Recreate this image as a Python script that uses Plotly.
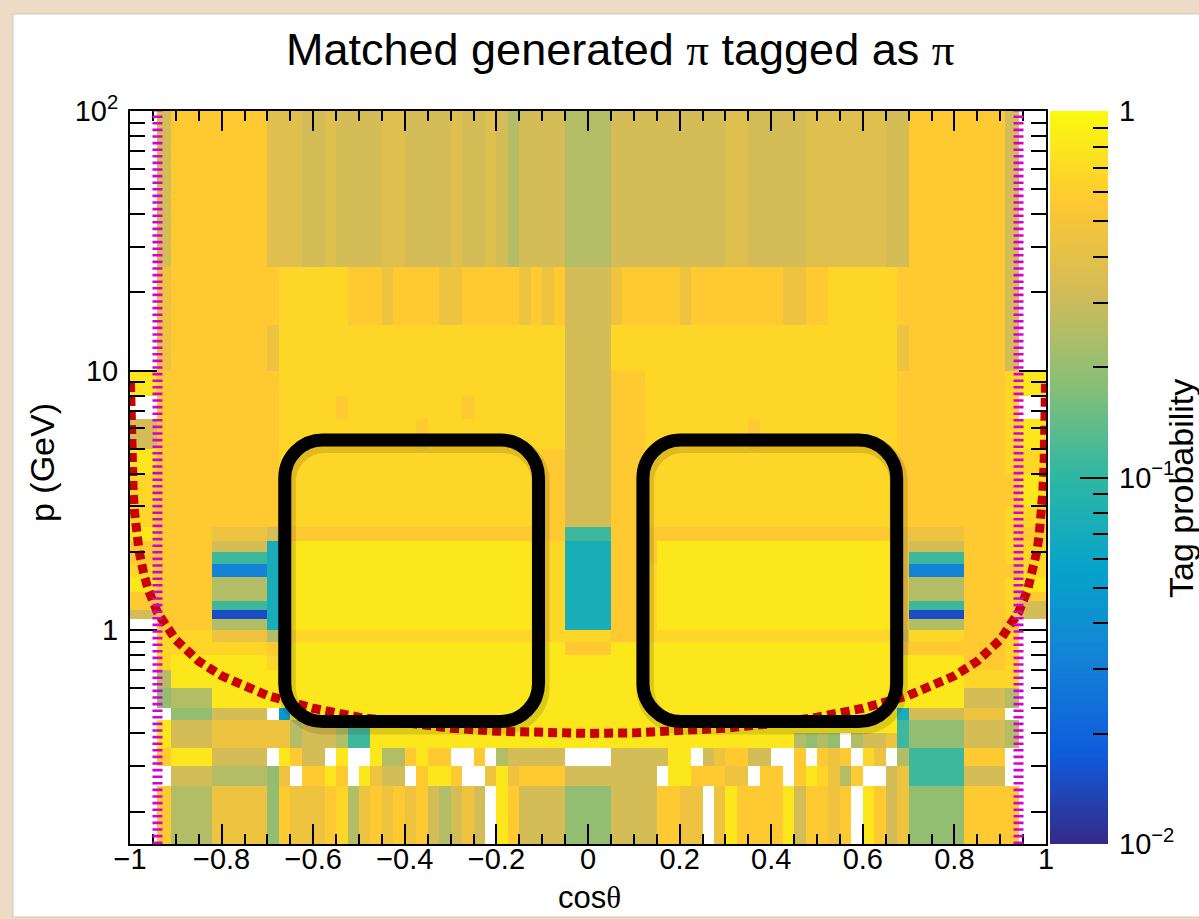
import math
import plotly.graph_objects as go

# ---------------- data ----------------
TITLE = "Matched generated <span style='font-family:Liberation Serif'>π</span> tagged as <span style='font-family:Liberation Serif'>π</span>"
X_TITLE = "cos<span style='font-family:Liberation Serif'>θ</span>"
Y_TITLE = "p (GeV)"
Z_TITLE = "Tag probability"

# cos(theta) bin edges: coarse outer bins, 0.025-wide inner bins
X_EDGES_LEFT = [-1.0, -0.94, -0.91, -0.82, -0.70]
X_EDGES_INNER = [-0.675, -0.65, -0.625, -0.6, -0.575, -0.55, -0.525, -0.5, -0.475, -0.45,
                 -0.425, -0.4, -0.375, -0.35, -0.325, -0.3, -0.275, -0.25, -0.225, -0.2,
                 -0.175, -0.15, -0.125, -0.1, -0.075, -0.05, -0.025, 0.0, 0.025, 0.05,
                 0.075, 0.1, 0.125, 0.15, 0.175, 0.2, 0.225, 0.25, 0.275, 0.3,
                 0.325, 0.35, 0.375, 0.4, 0.425, 0.45, 0.475, 0.5, 0.525, 0.55,
                 0.575, 0.6, 0.625, 0.65, 0.675]
X_EDGES_RIGHT = [0.70, 0.82, 0.91, 0.94, 1.0]

# momentum bin edges (GeV)
P_EDGES = [0.15, 0.25, 0.3, 0.35, 0.4, 0.45, 0.5, 0.6, 0.7, 0.8, 0.9, 1.0, 1.1, 1.2, 1.3,
           1.4, 1.6, 1.8, 2.0, 2.2, 2.5, 3.0, 4.0, 5.0, 6.5, 8.0, 10, 15, 25, 100]

# tag-probability levels ('.' = empty bin)
LEVELS = {'Y': 0.80, 'y': 0.66, 'o': 0.57, 'a': 0.46, 'h': 0.38, 'g': 0.33, 'l': 0.25,
          'G': 0.195, 'T': 0.11, 't': 0.074, 'c': 0.045, 'b': 0.032, 'B': 0.015}

# rows from the top (p=100) to the bottom (p=0.15); 4 outer | 56 inner | 4 outer
ROWS = [
    ". g o o | hhhg ghgg gghh gggg hggh glgg ggll llgg gggg gggg hhgg gggh hhhh hhgg | o o g .",
    ". a o o | oyyy yyyo ooao oooa aooo ooao aogg ggao oooo aooo oooo oaao oyyy yyyo | o o g .",
    ". a o o | ayyy yyyy yyyy yyyy yyyy yyyy yygg ggyy yyyy yyyy yyyy yyyy yyyy yyya | o o g .",
    "Y o o o | oyyy yyyy yyyy yyyy yyyy yyyy yygg ggoo oyyy yyyy yyyy yyyy yyyy yyyo | o o y Y",
    ". o o o | oyyy yyoy yyyy yyyy yoyy yyyy yygg ggoo oyyy yyyy yyyy yyyy yyyy yyyo | o o y .",
    "g o o o | oyyy yyyy yyyy yoyy yyyy yyyy yygg ggoo oyyy yyyy yyoy yyyy yyyy yyyo | o o y Y",
    "Y o o o | oyyy yyyy yyyy yyyy yyyy yyyy oogg ggoo oyyy yyyy yyyy yyyy yyyy yyyo | o o y y",
    "y o o o | oyyy yyyy yyyy yyyy yyyy yyyy oogg ggoo oyyy yyyy yyyy yyyy yyyy yyyo | o o o Y",
    "y o o o | oyyy yyyy yyyy yyyy yyyy yyyy oogg ggoo oyyy yyyy yyyy yyyy yyyy yyyo | o o y y",
    "Y o o a | gooo oooo oooo oooo oooo oooo ooTT TToo oooo oooo oooo oooo oooo oooa | a o y o",
    "o o o g | tYYY YYYY YYYY YYYY YYYY YYYY yytt ttoo ooYY YYYY YYYY YYYY YYYY YYYa | g o y y",
    "o o o T | tYYY YYYY YYYY YYYY YYYY YYYY yytt ttoo ooYY YYYY YYYY YYYY YYYY YYYa | T o y y",
    "y o o b | tyYY YYYY YYYY YYYY YYYY YYYY yytt ttoo oyYY YYYY YYYY YYYY YYYY YYYa | b o o y",
    "Y o o l | tyYY YYYY YYYY YYYY YYYY YYYY yytt ttoo oyYY YYYY YYYY YYYY YYYY YYYa | l o y Y",
    "o o o l | tyYY YYYY YYYY YYYY YYYY YYYY yytt ttoo oyYY YYYY YYYY YYYY YYYY YYYa | l o y o",
    "o o o T | tyYY YYYY YYYY YYYY YYYY YYYY yytt ttoo oyYY YYYY YYYY YYYY YYYY YYYa | T o y g",
    "g o o B | tyYY YYYY YYYY YYYY YYYY YYYY yytt ttoo oyYY YYYY YYYY YYYY YYYY YYYa | B o y g",
    ". o o l | tyYY YYYY YYYY YYYY YYYY YYYY yytt ttoo oyYY YYYY YYYY YYYY YYYY YYYa | l o a .",
    ". y y a | lyyy yyyy yyyy yyyy yyyy yyyy yyyy yyoo oyyy yyyy yyyy yyyy yyyy yyyg | y o y .",
    ". y y y | oYYY YYYY YYYY YYYY YYYY YYYY YYoo ooYY YYYY YYYY YYYY YYYY YYYY YYYa | o o y .",
    ". y Y Y | yYYY YYYY YYYY YYYY YYYY YYYY YYYY YYYY YYYY YYYY YYYY YYYY YYYY YYYY | Y o y .",
    ". l Y Y | YYYY YYYY YYYY YYYY YYYY YYYY YYYY YYYY YYYY YYYY YYYY YYYY YYYY YYYY | Y y y .",
    ". G l Y | YYYY YYYY YYYY YYYY YYYY YYYY YYYY YYYY YYYY YYYY YYYY YYYY YYYY YYYY | Y g l .",
    ". . G g | .cYY YYYY YYYY YYYY YYYY YYYY YYYY YYYY YYYY YYYY YYYY YYYY YYYY YYYt | g a . .",
    ". Y g a | aalg gglT TYYY YYYY YYYY YYYY YYYY YYYY YYYY YYYY YYYY YYYY YYYY YYYT | G g l .",
    ". Y g a | aalg gglT TYYY YYYY YYYY YYYY YYYY YYYY YYYY YYYY YYYY YYlG lG.l ggaT | G g l .",
    ". o Y g | .Yog g.Y. .Yll oYoo ..o. lggg gg.. ..gg gggY Y.ga oogg ..o. oao. ya.l | T o . .",
    ". . g l | Ga.o oYo. Yagg .oYY o..a Yaoo oogg gggg gg.Y Yooo aa.o o.oY yalo ..ga | T g . .",
    ". o l a | Goaa aoyl aoao aogl gag. Yogg ggGG GGgg ggoo aa.a Yooo oYgo oao. Yoga | G o o .",
]

# p_T = 0.4 GeV threshold curve
CURVE_X = [-0.999, -0.998, -0.996, -0.993, -0.99, -0.985, -0.98, -0.97, -0.96, -0.94, -0.92,
           -0.9, -0.85, -0.8, -0.7, -0.6, -0.5, -0.4, -0.3, -0.2, -0.1, 0.0,
           0.1, 0.2, 0.3, 0.4, 0.5, 0.6, 0.7, 0.8, 0.85, 0.9, 0.92, 0.94, 0.96, 0.97,
           0.98, 0.985, 0.99, 0.993, 0.996, 0.998, 0.999]
CURVE_P = [8.95, 6.33, 4.48, 3.39, 2.84, 2.32, 2.01, 1.65, 1.43, 1.17, 1.02,
           0.918, 0.759, 0.667, 0.560, 0.500, 0.462, 0.436, 0.419, 0.408, 0.402, 0.400,
           0.402, 0.408, 0.419, 0.436, 0.462, 0.500, 0.560, 0.667, 0.759, 0.918, 1.02, 1.17,
           1.43, 1.65, 2.01, 2.32, 2.84, 3.39, 4.48, 6.33, 8.95]

# acceptance edges (magenta) and highlighted regions (black boxes)
ACCEPT_X = [-0.94, 0.94]
BOXES_X = [(-0.662, -0.108), (0.120, 0.674)]
BOX_P = (0.445, 5.4)

# colour axis (tag probability) limits and labels
Z_RANGE = (0.01, 1.0)
Z_TICKS = [0.01, 0.1, 1]
Z_TICKTEXT = ['10<sup>−2</sup>', '10<sup>−1</sup>', '1']

# ---------------- build ----------------
x_edges = X_EDGES_LEFT + X_EDGES_INNER + X_EDGES_RIGHT
rows = [r.replace(' ', '').replace('|', '') for r in ROWS]
for r in rows:
    assert len(r) == len(x_edges) - 1, (len(r), r)
assert len(rows) == len(P_EDGES) - 1

z = []
for r in reversed(rows):
    z.append([None if ch == '.' else math.log10(LEVELS[ch]) for ch in r])

BIRD = [[0.0, 'rgb(53,42,135)'], [0.125, 'rgb(15,92,221)'], [0.25, 'rgb(20,129,214)'],
        [0.375, 'rgb(6,164,202)'], [0.5, 'rgb(46,183,164)'], [0.625, 'rgb(135,191,119)'],
        [0.75, 'rgb(209,187,89)'], [0.875, 'rgb(254,200,50)'], [1.0, 'rgb(249,251,14)']]

W, H = 1199, 919
ML, MR, MT, MB = 130, 91, 111, 75
PW, PH = W - ML - MR, H - MT - MB          # whole plotting region (frame + colour bar)
FRAME_R = 1046                             # right edge of the frame in px
BAR_L, BAR_R = 1050, 1108                  # colour bar in px
FW = FRAME_R - ML                          # frame width in px
FONT = 'Liberation Sans'
LZMIN, LZMAX = math.log10(Z_RANGE[0]), math.log10(Z_RANGE[1])

def px2paper_x(px):
    return (px - ML) / PW

def px2paper_y(py):
    return (H - MB - py) / PH

fig = go.Figure()
fig.add_trace(go.Heatmap(
    x=x_edges, y=P_EDGES, z=z, colorscale=BIRD, zmin=LZMIN, zmax=LZMAX,
    hoverinfo='skip', showscale=False, xaxis='x', yaxis='y',
))

# colour bar drawn as its own little panel (gradient of the colour scale)
NSTEP = 240
bar_edges = [10 ** (LZMIN + (LZMAX - LZMIN) * i / NSTEP) for i in range(NSTEP + 1)]
bar_z = [[LZMIN + (LZMAX - LZMIN) * (i + 0.5) / NSTEP] for i in range(NSTEP)]
fig.add_trace(go.Heatmap(
    x=[0, 1], y=bar_edges, z=bar_z, colorscale=BIRD, zmin=LZMIN, zmax=LZMAX,
    hoverinfo='skip', showscale=False, xaxis='x2', yaxis='y2',
))

fig.add_trace(go.Scatter(
    x=CURVE_X, y=CURVE_P, mode='lines', hoverinfo='skip', showlegend=False,
    line=dict(color='#c80000', width=9, dash='9px,5px'), xaxis='x', yaxis='y',
))

shapes = []
# white panel on parchment
shapes.append(dict(type='rect', xref='paper', yref='paper', layer='below',
                   x0=px2paper_x(13), x1=px2paper_x(1205), y0=px2paper_y(917), y1=px2paper_y(14),
                   fillcolor='white', line=dict(color='#cfc7bd', width=1)))
# acceptance lines
for xv in ACCEPT_X:
    shapes.append(dict(type='line', xref='x', yref='paper', x0=xv, x1=xv, y0=0, y1=1,
                       line=dict(color='#d400d4', width=10, dash='2.6px,4px')))

# rounded boxes
RX = 38 / (FW / 2.0)               # corner radius in x data units
LOG_SPAN = 2 - math.log10(0.15)
FY = 10 ** (38 / (PH / LOG_SPAN))  # corner radius as a p factor
K = 0.5523

def rounded(x0, x1, p0, p1, dx=0.0, fp=1.0):
    x0 += dx; x1 += dx; p0 *= fp; p1 *= fp
    kx = RX * (1 - K)
    fk = FY ** (1 - K)
    return (f"M{x0+RX},{p1} L{x1-RX},{p1} C{x1-kx},{p1} {x1},{p1/fk} {x1},{p1/FY} "
            f"L{x1},{p0*FY} C{x1},{p0*fk} {x1-kx},{p0} {x1-RX},{p0} "
            f"L{x0+RX},{p0} C{x0+kx},{p0} {x0},{p0*fk} {x0},{p0*FY} "
            f"L{x0},{p1/FY} C{x0},{p1/fk} {x0+kx},{p1} {x0+RX},{p1} Z")

for (bx0, bx1) in BOXES_X:
    shapes.append(dict(type='path', xref='x', yref='y',
                       path=rounded(bx0, bx1, BOX_P[0], BOX_P[1], dx=2 / (FW / 2.0),
                                    fp=10 ** (-4 / (PH / LOG_SPAN))),
                       line=dict(color='rgba(70,50,0,0.16)', width=18)))
    shapes.append(dict(type='path', xref='x', yref='y',
                       path=rounded(bx0, bx1, BOX_P[0], BOX_P[1]),
                       line=dict(color='black', width=13)))

annotations = [
    dict(text=TITLE, xref='paper', yref='paper', x=px2paper_x(620), y=px2paper_y(50),
         xanchor='center', yanchor='middle', showarrow=False,
         font=dict(family=FONT, size=45, color='black')),
    dict(text=X_TITLE, xref='paper', yref='paper', x=px2paper_x(589), y=px2paper_y(897),
         xanchor='center', yanchor='middle', showarrow=False,
         font=dict(family=FONT, size=31, color='black')),
    dict(text=Y_TITLE, xref='paper', yref='paper', x=px2paper_x(42), y=px2paper_y(463),
         xanchor='center', yanchor='middle', showarrow=False, textangle=-90,
         font=dict(family=FONT, size=34, color='black')),
    dict(text=Z_TITLE, xref='paper', yref='paper', x=px2paper_x(1181), y=px2paper_y(489),
         xanchor='center', yanchor='middle', showarrow=False, textangle=-90,
         font=dict(family=FONT, size=34, color='black')),
]

tick_font = dict(family=FONT, size=29, color='black')
fig.update_layout(
    width=W, height=H, margin=dict(l=ML, r=MR, t=MT, b=MB, pad=0),
    paper_bgcolor='#ecdcc5', plot_bgcolor='rgba(0,0,0,0)',
    showlegend=False, shapes=shapes, annotations=annotations,
    font=dict(family=FONT, size=29, color='black'),
    xaxis=dict(domain=[0, FW / PW], anchor='y', range=[-1, 1],
               tickvals=[-1, -0.8, -0.6, -0.4, -0.2, 0, 0.2, 0.4, 0.6, 0.8, 1],
               ticktext=['−1', '−0.8', '−0.6', '−0.4', '−0.2', '0', '0.2', '0.4', '0.6', '0.8', '1'],
               ticks='inside', ticklen=20, tickwidth=1.5, tickcolor='black',
               minor=dict(ticks='inside', ticklen=10, dtick=0.05, tick0=0, tickwidth=1.5, tickcolor='black'),
               showline=True, linecolor='black', linewidth=2, mirror='ticks',
               showgrid=False, zeroline=False, ticklabelstandoff=-12, tickfont=tick_font),
    yaxis=dict(domain=[0, 1], anchor='x', type='log', range=[math.log10(0.15), 2],
               tickvals=[1, 10, 100], ticktext=['1', '10', '10<sup>2</sup>'],
               ticks='inside', ticklen=27, tickwidth=1.5, tickcolor='black',
               minor=dict(ticks='inside', ticklen=15, tickwidth=1.5, tickcolor='black',
                          tickmode='array',
                          tickvals=[0.2, 0.3, 0.4, 0.5, 0.6, 0.7, 0.8, 0.9,
                                    2, 3, 4, 5, 6, 7, 8, 9, 20, 30, 40, 50, 60, 70, 80, 90]),
               showline=True, linecolor='black', linewidth=2, mirror='ticks',
               showgrid=False, zeroline=False, ticklabelstandoff=4, tickfont=tick_font),
    xaxis2=dict(domain=[px2paper_x(BAR_L), px2paper_x(BAR_R)], anchor='y2', range=[0, 1],
                visible=False, fixedrange=True),
    yaxis2=dict(domain=[0, 1], anchor='x2', side='right', type='log', range=[LZMIN, LZMAX],
                tickvals=Z_TICKS, ticktext=Z_TICKTEXT,
                ticks='inside', ticklen=28, tickwidth=1.5, tickcolor='black',
                minor=dict(ticks='inside', ticklen=15, tickwidth=1.5, tickcolor='black',
                           tickmode='array',
                           tickvals=[0.02, 0.03, 0.04, 0.05, 0.06, 0.07, 0.08, 0.09,
                                     0.2, 0.3, 0.4, 0.5, 0.6, 0.7, 0.8, 0.9]),
                showline=False, showgrid=False, zeroline=False, ticklabelstandoff=10,
                tickfont=tick_font, fixedrange=True),
)

fig.write_html("out.html", config={'displayModeBar': False})
